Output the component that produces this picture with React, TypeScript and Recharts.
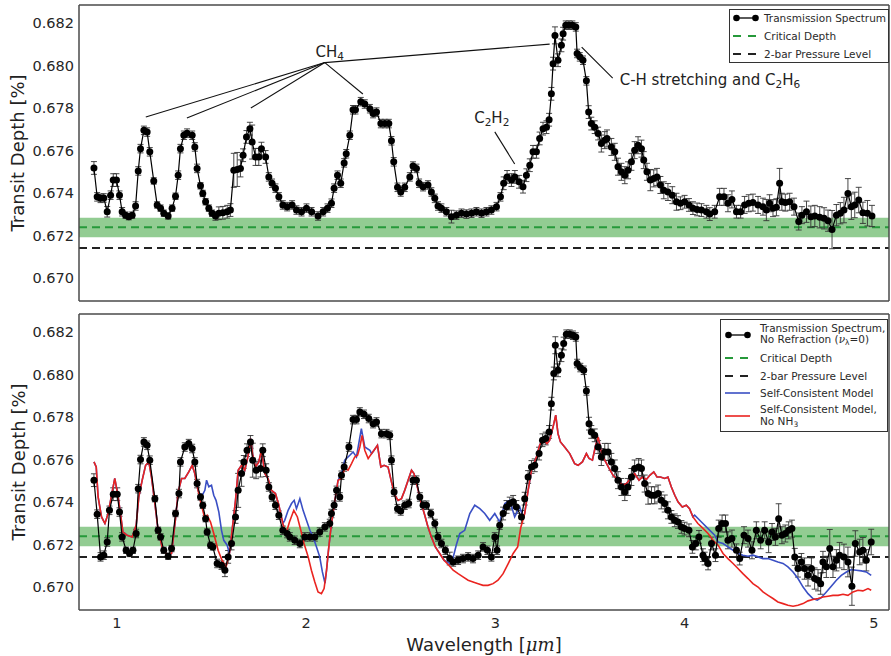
import React from 'react';
import {
  ComposedChart, Scatter, Line, XAxis, YAxis, ErrorBar,
  ReferenceArea, ReferenceLine, ReferenceDot, Legend,
} from 'recharts';

// wavelength [um], transit depth [%], 1-sigma error
const topSpectrum: [number, number, number][] = [
  [0.879, 0.67519, 0.0003], [0.896, 0.67383, 0.0002], [0.914, 0.67376, 0.0002], [0.931, 0.67378, 0.0002],
  [0.949, 0.67313, 0.00025], [0.967, 0.67391, 0.0002], [0.981, 0.67462, 0.0003], [0.998, 0.67462, 0.0003],
  [1.014, 0.67391, 0.0002], [1.028, 0.67313, 0.0002], [1.046, 0.67297, 0.00015], [1.063, 0.6729, 0.00015],
  [1.081, 0.67297, 0.00015], [1.099, 0.6734, 0.0002], [1.113, 0.67505, 0.0002], [1.125, 0.6761, 0.0002],
  [1.143, 0.67696, 0.0002], [1.16, 0.67688, 0.0002], [1.174, 0.67595, 0.0002], [1.195, 0.67458, 0.00015],
  [1.213, 0.67345, 0.00015], [1.231, 0.6733, 0.00015], [1.248, 0.67306, 0.00015], [1.271, 0.67293, 0.00015],
  [1.292, 0.6733, 0.00015], [1.31, 0.67386, 0.00015], [1.324, 0.67485, 0.0002], [1.336, 0.6761, 0.0002],
  [1.354, 0.67673, 0.0002], [1.371, 0.67683, 0.0002], [1.398, 0.67673, 0.0002], [1.412, 0.67618, 0.0002],
  [1.424, 0.67517, 0.0002], [1.442, 0.67435, 0.00015], [1.454, 0.67399, 0.00015], [1.469, 0.6736, 0.00015],
  [1.486, 0.6733, 0.00015], [1.503, 0.67306, 0.00015], [1.521, 0.67293, 0.0002], [1.539, 0.67306, 0.0003],
  [1.56, 0.67308, 0.0003], [1.583, 0.67313, 0.0003], [1.6, 0.67321, 0.0003], [1.618, 0.67508, 0.0008],
  [1.636, 0.67512, 0.0008], [1.653, 0.67517, 0.0004], [1.667, 0.67579, 0.0003], [1.685, 0.67665, 0.0003],
  [1.703, 0.67704, 0.0003], [1.715, 0.67641, 0.0008], [1.733, 0.67571, 0.0004], [1.75, 0.67571, 0.0004],
  [1.764, 0.6761, 0.0003], [1.786, 0.67571, 0.0003], [1.803, 0.67477, 0.0002], [1.82, 0.67447, 0.0002],
  [1.838, 0.67424, 0.0002], [1.856, 0.67383, 0.0002], [1.877, 0.67345, 0.0002], [1.9, 0.67337, 0.0002],
  [1.926, 0.67345, 0.0002], [1.949, 0.67321, 0.0002], [1.976, 0.67313, 0.0002], [2.002, 0.6733, 0.0002],
  [2.029, 0.67313, 0.0002], [2.063, 0.67293, 0.0002], [2.09, 0.67313, 0.0002], [2.113, 0.6733, 0.0002],
  [2.134, 0.67353, 0.0002], [2.148, 0.67424, 0.0002], [2.166, 0.67485, 0.0002], [2.183, 0.67447, 0.0002],
  [2.201, 0.67543, 0.0002], [2.212, 0.67586, 0.0002], [2.231, 0.67673, 0.0002], [2.248, 0.67793, 0.0002],
  [2.261, 0.67793, 0.0002], [2.289, 0.67831, 0.0002], [2.31, 0.6782, 0.0002], [2.337, 0.67798, 0.0002],
  [2.354, 0.67775, 0.0002], [2.372, 0.67782, 0.0002], [2.395, 0.67728, 0.0002], [2.416, 0.67728, 0.0002],
  [2.437, 0.67728, 0.0002], [2.451, 0.67647, 0.0002], [2.463, 0.67548, 0.0002], [2.483, 0.67428, 0.0002],
  [2.5, 0.67406, 0.0002], [2.521, 0.67428, 0.0002], [2.548, 0.67477, 0.0002], [2.565, 0.67528, 0.0002],
  [2.583, 0.67517, 0.0002], [2.597, 0.67447, 0.0002], [2.618, 0.67431, 0.0002], [2.644, 0.67439, 0.0002],
  [2.662, 0.67406, 0.0002], [2.68, 0.67376, 0.0002], [2.697, 0.6734, 0.0002], [2.715, 0.6733, 0.0002],
  [2.741, 0.67313, 0.0002], [2.768, 0.6729, 0.0003], [2.794, 0.67297, 0.0002], [2.821, 0.67306, 0.0002],
  [2.847, 0.67302, 0.0002], [2.874, 0.67306, 0.0002], [2.9, 0.67313, 0.0002], [2.927, 0.67306, 0.0002],
  [2.953, 0.67313, 0.0002], [2.979, 0.67321, 0.0002], [3.006, 0.67337, 0.0002], [3.027, 0.67383, 0.0002],
  [3.044, 0.67447, 0.0003], [3.062, 0.67477, 0.0003], [3.085, 0.67462, 0.0003], [3.103, 0.67477, 0.0003],
  [3.125, 0.67454, 0.0003], [3.146, 0.67431, 0.0003], [3.164, 0.67485, 0.0003], [3.182, 0.67532, 0.0003],
  [3.199, 0.67595, 0.0003], [3.217, 0.67595, 0.0003], [3.234, 0.67658, 0.0003], [3.252, 0.67704, 0.0003],
  [3.27, 0.67711, 0.0003], [3.284, 0.67746, 0.0003], [3.296, 0.67868, 0.0003], [3.305, 0.6801, 0.0003],
  [3.315, 0.68143, 0.0004], [3.331, 0.68026, 0.0003], [3.349, 0.68096, 0.0003], [3.358, 0.68151, 0.0003],
  [3.372, 0.68191, 0.0002], [3.389, 0.68191, 0.0002], [3.407, 0.68191, 0.0002], [3.425, 0.68183, 0.0002],
  [3.432, 0.68058, 0.0002], [3.446, 0.68042, 0.0002], [3.463, 0.68026, 0.0002], [3.481, 0.67929, 0.0002],
  [3.493, 0.67782, 0.0003], [3.507, 0.67728, 0.0003], [3.525, 0.67711, 0.0003], [3.543, 0.67681, 0.0003],
  [3.56, 0.67634, 0.0004], [3.578, 0.6765, 0.0004], [3.59, 0.67658, 0.0004], [3.613, 0.67618, 0.0004],
  [3.631, 0.67595, 0.0004], [3.648, 0.67525, 0.0004], [3.666, 0.67501, 0.0004], [3.684, 0.67485, 0.0004],
  [3.701, 0.67508, 0.0004], [3.719, 0.67548, 0.0004], [3.736, 0.67603, 0.0004], [3.754, 0.67626, 0.0004],
  [3.772, 0.6761, 0.0004], [3.784, 0.67556, 0.0004], [3.801, 0.67501, 0.0004], [3.819, 0.67462, 0.0005],
  [3.837, 0.6747, 0.0004], [3.854, 0.67477, 0.0004], [3.872, 0.67439, 0.0004], [3.89, 0.67414, 0.0004],
  [3.912, 0.67406, 0.0004], [3.935, 0.67391, 0.0004], [3.957, 0.6736, 0.0004], [3.978, 0.67353, 0.0003],
  [4.0, 0.6736, 0.0003], [4.023, 0.67345, 0.0003], [4.044, 0.6733, 0.0003], [4.066, 0.67324, 0.0003],
  [4.089, 0.67321, 0.0003], [4.115, 0.67313, 0.0003], [4.133, 0.67302, 0.0003], [4.159, 0.67313, 0.0003],
  [4.185, 0.67383, 0.0004], [4.208, 0.67383, 0.0004], [4.229, 0.67353, 0.0004], [4.25, 0.67371, 0.0004],
  [4.274, 0.67313, 0.0003], [4.296, 0.67313, 0.0003], [4.317, 0.67345, 0.0004], [4.339, 0.67353, 0.0004],
  [4.361, 0.67356, 0.0004], [4.388, 0.67345, 0.0004], [4.414, 0.67337, 0.0004], [4.432, 0.67321, 0.0005],
  [4.449, 0.67353, 0.0004], [4.467, 0.6733, 0.0004], [4.485, 0.67334, 0.0004], [4.502, 0.67447, 0.0007],
  [4.514, 0.6736, 0.0004], [4.532, 0.67356, 0.0004], [4.555, 0.6736, 0.0004], [4.578, 0.67337, 0.0004],
  [4.603, 0.67267, 0.0004], [4.62, 0.67297, 0.0004], [4.644, 0.67313, 0.0005], [4.667, 0.6729, 0.0005],
  [4.688, 0.67293, 0.0005], [4.714, 0.67287, 0.0005], [4.737, 0.67282, 0.0005], [4.758, 0.67271, 0.0005],
  [4.779, 0.67229, 0.0009], [4.802, 0.67297, 0.0005], [4.823, 0.67306, 0.0005], [4.842, 0.67321, 0.0006],
  [4.863, 0.67399, 0.0007], [4.881, 0.67337, 0.0006], [4.899, 0.67345, 0.0006], [4.92, 0.67368, 0.0006],
  [4.942, 0.67308, 0.0005], [4.966, 0.67306, 0.0006], [4.99, 0.67293, 0.0005],
];

const noRefractionSpectrum: [number, number, number][] = [
  [0.879, 0.67504, 0.0003], [0.896, 0.67344, 0.0002], [0.914, 0.67143, 0.0002], [0.931, 0.67151, 0.0002],
  [0.949, 0.67213, 0.0002], [0.961, 0.67362, 0.0002], [0.981, 0.67438, 0.0003], [1.002, 0.67438, 0.0003],
  [1.014, 0.67354, 0.0002], [1.028, 0.67237, 0.0002], [1.049, 0.67174, 0.00015], [1.067, 0.67159, 0.00015],
  [1.085, 0.67174, 0.00015], [1.102, 0.67253, 0.0002], [1.113, 0.67464, 0.0002], [1.125, 0.67601, 0.0002],
  [1.143, 0.67684, 0.0002], [1.16, 0.67668, 0.0002], [1.174, 0.67598, 0.0002], [1.201, 0.67417, 0.00015],
  [1.218, 0.67268, 0.00015], [1.231, 0.67237, 0.00015], [1.248, 0.67174, 0.00015], [1.271, 0.67146, 0.00015],
  [1.289, 0.67182, 0.00015], [1.31, 0.67347, 0.00015], [1.328, 0.67441, 0.0002], [1.336, 0.6759, 0.0002],
  [1.359, 0.6766, 0.0002], [1.38, 0.67676, 0.0002], [1.398, 0.67653, 0.0002], [1.412, 0.6759, 0.0002],
  [1.424, 0.67488, 0.0002], [1.442, 0.67425, 0.00015], [1.454, 0.67386, 0.00015], [1.469, 0.67323, 0.00015],
  [1.477, 0.6726, 0.00015], [1.495, 0.67198, 0.00015], [1.507, 0.6719, 0.00015], [1.53, 0.67112, 0.0002],
  [1.553, 0.67104, 0.0002], [1.571, 0.6708, 0.0003], [1.588, 0.67143, 0.0003], [1.606, 0.67206, 0.0003],
  [1.627, 0.67331, 0.0003], [1.641, 0.67456, 0.0008], [1.659, 0.67535, 0.0006], [1.671, 0.6759, 0.0003],
  [1.688, 0.67645, 0.0003], [1.706, 0.67684, 0.0003], [1.718, 0.67598, 0.0008], [1.736, 0.67551, 0.0004],
  [1.759, 0.67559, 0.0004], [1.771, 0.67645, 0.0003], [1.789, 0.67551, 0.0003], [1.803, 0.67472, 0.0002],
  [1.82, 0.67425, 0.0002], [1.838, 0.67386, 0.0002], [1.856, 0.67339, 0.0002], [1.877, 0.67268, 0.0002],
  [1.9, 0.67253, 0.0002], [1.914, 0.67237, 0.0002], [1.94, 0.67221, 0.0002], [1.967, 0.67206, 0.0002],
  [1.993, 0.67237, 0.0002], [2.02, 0.67237, 0.0002], [2.046, 0.67237, 0.0002], [2.072, 0.6726, 0.0002],
  [2.099, 0.67284, 0.0002], [2.125, 0.673, 0.0002], [2.134, 0.67347, 0.0002], [2.148, 0.67386, 0.0002],
  [2.161, 0.67456, 0.0002], [2.178, 0.67425, 0.0002], [2.187, 0.67527, 0.0002], [2.201, 0.67566, 0.0002],
  [2.226, 0.6766, 0.0002], [2.248, 0.67789, 0.0002], [2.266, 0.67789, 0.0002], [2.284, 0.67825, 0.0002],
  [2.306, 0.67814, 0.0002], [2.331, 0.67794, 0.0002], [2.354, 0.6777, 0.0002], [2.372, 0.67778, 0.0002],
  [2.398, 0.67723, 0.0002], [2.425, 0.67723, 0.0002], [2.442, 0.67715, 0.0002], [2.451, 0.67598, 0.0002],
  [2.465, 0.67448, 0.0002], [2.483, 0.6737, 0.0002], [2.5, 0.67359, 0.0002], [2.521, 0.67386, 0.0002],
  [2.542, 0.67394, 0.0002], [2.565, 0.67504, 0.0002], [2.583, 0.67504, 0.0002], [2.601, 0.67425, 0.0002],
  [2.618, 0.67386, 0.0002], [2.636, 0.67386, 0.0002], [2.659, 0.67347, 0.0002], [2.68, 0.673, 0.0002],
  [2.697, 0.67237, 0.0002], [2.715, 0.67206, 0.0002], [2.736, 0.67174, 0.0002], [2.759, 0.67135, 0.0003],
  [2.777, 0.67119, 0.0002], [2.803, 0.67127, 0.0002], [2.829, 0.67135, 0.0002], [2.856, 0.67143, 0.0002],
  [2.882, 0.67135, 0.0002], [2.909, 0.67151, 0.0002], [2.935, 0.6719, 0.0002], [2.958, 0.67174, 0.0002],
  [2.979, 0.67143, 0.0002], [2.997, 0.67237, 0.0002], [3.009, 0.67174, 0.0002], [3.023, 0.67292, 0.0002],
  [3.041, 0.67347, 0.0003], [3.059, 0.67378, 0.0003], [3.076, 0.67394, 0.0003], [3.094, 0.67402, 0.0003],
  [3.111, 0.67378, 0.0003], [3.138, 0.67331, 0.0003], [3.155, 0.67417, 0.0003], [3.173, 0.67519, 0.0003],
  [3.191, 0.67566, 0.0003], [3.208, 0.67574, 0.0003], [3.231, 0.67629, 0.0003], [3.249, 0.67692, 0.0003],
  [3.266, 0.677, 0.0003], [3.284, 0.67731, 0.0003], [3.296, 0.67864, 0.0003], [3.309, 0.68006, 0.0003],
  [3.317, 0.68139, 0.0004], [3.331, 0.68021, 0.0003], [3.349, 0.68092, 0.0003], [3.361, 0.68147, 0.0003],
  [3.375, 0.68191, 0.0002], [3.393, 0.68191, 0.0002], [3.41, 0.68186, 0.0002], [3.425, 0.68178, 0.0002],
  [3.432, 0.68053, 0.0002], [3.449, 0.68034, 0.0002], [3.467, 0.68021, 0.0002], [3.481, 0.67924, 0.0002],
  [3.495, 0.6777, 0.0003], [3.507, 0.67731, 0.0003], [3.525, 0.67715, 0.0003], [3.543, 0.6766, 0.0003],
  [3.56, 0.67613, 0.0004], [3.578, 0.67637, 0.0004], [3.596, 0.67637, 0.0004], [3.613, 0.6759, 0.0004],
  [3.631, 0.67559, 0.0004], [3.648, 0.67504, 0.0004], [3.666, 0.67472, 0.0004], [3.684, 0.67448, 0.0004],
  [3.701, 0.67472, 0.0004], [3.719, 0.67519, 0.0004], [3.736, 0.67559, 0.0004], [3.757, 0.67566, 0.0004],
  [3.772, 0.67559, 0.0004], [3.789, 0.67488, 0.0004], [3.807, 0.67441, 0.0005], [3.825, 0.67433, 0.0004],
  [3.842, 0.67433, 0.0004], [3.86, 0.67441, 0.0004], [3.877, 0.67409, 0.0004], [3.895, 0.67394, 0.0004],
  [3.912, 0.67362, 0.0004], [3.93, 0.67331, 0.0003], [3.948, 0.67315, 0.0003], [3.965, 0.67307, 0.0003],
  [3.983, 0.67284, 0.0003], [4.0, 0.67276, 0.0003], [4.023, 0.67268, 0.0003], [4.041, 0.6719, 0.0003],
  [4.059, 0.67206, 0.0003], [4.076, 0.67237, 0.0003], [4.097, 0.67151, 0.0003], [4.106, 0.67135, 0.0003],
  [4.124, 0.67112, 0.0003], [4.142, 0.67206, 0.0003], [4.163, 0.67151, 0.0003], [4.18, 0.67276, 0.0004],
  [4.198, 0.673, 0.0004], [4.216, 0.673, 0.0004], [4.229, 0.67221, 0.0004], [4.25, 0.67229, 0.0004],
  [4.274, 0.67174, 0.0003], [4.291, 0.67135, 0.0003], [4.314, 0.67245, 0.0004], [4.335, 0.67229, 0.0004],
  [4.356, 0.67174, 0.0004], [4.379, 0.67268, 0.0004], [4.402, 0.67221, 0.0004], [4.423, 0.67268, 0.0004],
  [4.444, 0.67213, 0.0005], [4.462, 0.6726, 0.0004], [4.48, 0.67237, 0.0004], [4.497, 0.67323, 0.0007],
  [4.514, 0.67245, 0.0004], [4.532, 0.67253, 0.0004], [4.55, 0.67268, 0.0004], [4.567, 0.67276, 0.0004],
  [4.582, 0.67143, 0.0004], [4.599, 0.67088, 0.0004], [4.617, 0.67119, 0.0004], [4.634, 0.67088, 0.0005],
  [4.652, 0.67056, 0.0005], [4.67, 0.67088, 0.0005], [4.687, 0.67041, 0.0005], [4.705, 0.67033, 0.0005],
  [4.719, 0.67017, 0.0005], [4.731, 0.67119, 0.0005], [4.749, 0.67096, 0.0005], [4.767, 0.67182, 0.0009],
  [4.784, 0.67096, 0.0005], [4.802, 0.67127, 0.0005], [4.819, 0.67151, 0.0006], [4.842, 0.67143, 0.0006],
  [4.863, 0.67119, 0.0007], [4.884, 0.67005, 0.0009], [4.902, 0.67206, 0.0006], [4.925, 0.67166, 0.0006],
  [4.942, 0.67174, 0.0006], [4.96, 0.67127, 0.0005], [4.986, 0.67213, 0.0006],
];

// self-consistent model without NH3
const noNh3Model: [number, number][] = [
  [0.879, 0.6759], [0.891, 0.67566], [0.901, 0.67425], [0.919, 0.67331], [0.937, 0.673], [0.954, 0.67347],
  [0.972, 0.67433], [0.989, 0.67512], [1.007, 0.67425], [1.019, 0.67347], [1.032, 0.6726], [1.054, 0.67245],
  [1.081, 0.67237], [1.102, 0.67292], [1.116, 0.67425], [1.134, 0.67504], [1.152, 0.67574], [1.169, 0.6759],
  [1.183, 0.67519], [1.201, 0.67394], [1.218, 0.67268], [1.239, 0.6719], [1.266, 0.67151], [1.289, 0.67159],
  [1.31, 0.67323], [1.324, 0.67448], [1.342, 0.67512], [1.359, 0.67512], [1.38, 0.67543], [1.398, 0.67574],
  [1.412, 0.67535], [1.429, 0.67456], [1.447, 0.67386], [1.465, 0.67323], [1.477, 0.67339], [1.495, 0.67307],
  [1.512, 0.67253], [1.535, 0.67174], [1.556, 0.67127], [1.577, 0.67096], [1.595, 0.67159], [1.609, 0.67268],
  [1.627, 0.67409], [1.641, 0.67551], [1.659, 0.67574], [1.676, 0.67551], [1.694, 0.67621], [1.706, 0.677],
  [1.718, 0.67621], [1.733, 0.67566], [1.75, 0.6759], [1.764, 0.67645], [1.782, 0.67535], [1.799, 0.67512],
  [1.817, 0.67456], [1.838, 0.67441], [1.856, 0.67386], [1.877, 0.673], [1.894, 0.67253], [1.912, 0.67307],
  [1.935, 0.67362], [1.954, 0.67331], [1.972, 0.67268], [1.989, 0.67206], [2.011, 0.67143], [2.028, 0.6708],
  [2.046, 0.67025], [2.063, 0.66978], [2.081, 0.6697], [2.095, 0.66994], [2.108, 0.6708], [2.12, 0.6719],
  [2.134, 0.673], [2.152, 0.67409], [2.169, 0.67504], [2.187, 0.67512], [2.204, 0.67559], [2.222, 0.67551],
  [2.24, 0.67582], [2.257, 0.67613], [2.272, 0.67621], [2.284, 0.6766], [2.296, 0.67715], [2.31, 0.67645],
  [2.328, 0.67606], [2.346, 0.67629], [2.359, 0.67645], [2.377, 0.67668], [2.395, 0.67566], [2.412, 0.67574],
  [2.433, 0.67566], [2.451, 0.67496], [2.469, 0.67433], [2.486, 0.67409], [2.504, 0.67417], [2.521, 0.67456],
  [2.539, 0.67504], [2.557, 0.67551], [2.57, 0.67535], [2.588, 0.67472], [2.609, 0.67394], [2.627, 0.67339],
  [2.644, 0.67284], [2.662, 0.67237], [2.683, 0.6719], [2.706, 0.67159], [2.729, 0.67127], [2.754, 0.67104],
  [2.777, 0.6708], [2.803, 0.67064], [2.829, 0.67049], [2.856, 0.67033], [2.882, 0.67025], [2.909, 0.67017],
  [2.935, 0.67009], [2.961, 0.67009], [2.988, 0.67017], [3.014, 0.67033], [3.041, 0.67064], [3.07, 0.67115],
  [3.094, 0.67159], [3.118, 0.6719], [3.134, 0.6728], [3.155, 0.67347], [3.173, 0.67456], [3.191, 0.67551],
  [3.217, 0.67613], [3.234, 0.67668], [3.252, 0.677], [3.273, 0.67676], [3.287, 0.67692], [3.305, 0.67755],
  [3.319, 0.6781], [3.331, 0.67723], [3.344, 0.67684], [3.366, 0.6766], [3.393, 0.67629], [3.419, 0.67582],
  [3.437, 0.67574], [3.46, 0.6759], [3.481, 0.67629], [3.495, 0.67606], [3.513, 0.67598], [3.53, 0.67668],
  [3.543, 0.67707], [3.56, 0.67637], [3.578, 0.67598], [3.601, 0.67559], [3.622, 0.67527], [3.648, 0.67504],
  [3.672, 0.6748], [3.693, 0.67488], [3.714, 0.67512], [3.736, 0.67535], [3.759, 0.67504], [3.777, 0.67519],
  [3.798, 0.67507], [3.816, 0.67527], [3.837, 0.67543], [3.854, 0.67519], [3.872, 0.67519], [3.895, 0.67512],
  [3.912, 0.67519], [3.93, 0.67472], [3.948, 0.67433], [3.965, 0.67402], [3.988, 0.67378], [4.009, 0.67386],
  [4.026, 0.6737], [4.044, 0.67331], [4.07, 0.673], [4.089, 0.67284], [4.124, 0.67253], [4.15, 0.67221],
  [4.177, 0.67198], [4.203, 0.67159], [4.229, 0.67135], [4.256, 0.67112], [4.282, 0.67088], [4.308, 0.67064],
  [4.335, 0.67041], [4.361, 0.67017], [4.388, 0.67001], [4.414, 0.66978], [4.441, 0.66962], [4.467, 0.66947],
  [4.493, 0.66931], [4.52, 0.66923], [4.546, 0.66915], [4.573, 0.66911], [4.599, 0.66915], [4.626, 0.66923],
  [4.652, 0.66936], [4.678, 0.66942], [4.705, 0.66947], [4.731, 0.66954], [4.758, 0.66958], [4.784, 0.66962],
  [4.811, 0.66962], [4.837, 0.66967], [4.863, 0.66962], [4.89, 0.66978], [4.916, 0.66986], [4.942, 0.66983],
  [4.969, 0.66994], [4.986, 0.66986],
];

// self-consistent model: wavelength ranges where it departs from the no-NH3 curve
const nh3Segments: { from: number; to: number; points: [number, number][] }[] = [
  { from: 1.44, to: 1.59, points: [
    [1.447, 0.67425], [1.465, 0.67456], [1.474, 0.67504], [1.486, 0.67473], [1.5, 0.6748], [1.512, 0.67433],
    [1.524, 0.67409], [1.539, 0.67354], [1.553, 0.67268], [1.565, 0.67221], [1.583, 0.67198],
  ] },
  { from: 1.88, to: 2.105, points: [
    [1.887, 0.67315], [1.905, 0.67362], [1.923, 0.67394], [1.937, 0.67409], [1.949, 0.6737], [1.967, 0.67417],
    [1.984, 0.67362], [2.002, 0.67315], [2.02, 0.67268], [2.037, 0.67237], [2.055, 0.6719], [2.072, 0.67143],
    [2.086, 0.67072], [2.1, 0.67019],
  ] },
  { from: 2.18, to: 2.34, points: [
    [2.187, 0.67535], [2.204, 0.67598], [2.231, 0.67621], [2.248, 0.67637], [2.266, 0.67613], [2.292, 0.67747],
    [2.31, 0.6766], [2.337, 0.67645],
  ] },
  { from: 2.745, to: 3.15, points: [
    [2.759, 0.67112], [2.777, 0.6714], [2.794, 0.672], [2.812, 0.67253], [2.838, 0.67268], [2.865, 0.67347],
    [2.891, 0.67386], [2.918, 0.6737], [2.944, 0.67347], [2.97, 0.67315], [2.997, 0.67347], [3.023, 0.67307],
    [3.05, 0.67394], [3.076, 0.67409], [3.102, 0.67331], [3.129, 0.67378], [3.146, 0.67331],
  ] },
  { from: 4.045, to: 5.0, points: [
    [4.053, 0.67339], [4.089, 0.67307], [4.124, 0.67276], [4.159, 0.67245], [4.177, 0.67213], [4.203, 0.67206],
    [4.229, 0.6719], [4.256, 0.67174], [4.282, 0.67159], [4.308, 0.67151], [4.335, 0.67146], [4.361, 0.67151],
    [4.388, 0.67143], [4.414, 0.67135], [4.441, 0.67135], [4.467, 0.67127], [4.493, 0.67119], [4.52, 0.67112],
    [4.546, 0.67096], [4.573, 0.67072], [4.599, 0.67041], [4.626, 0.67001], [4.652, 0.6697], [4.678, 0.66947],
    [4.701, 0.66939], [4.722, 0.66951], [4.749, 0.66978], [4.775, 0.67005], [4.802, 0.67033], [4.828, 0.67056],
    [4.855, 0.67072], [4.881, 0.67083], [4.907, 0.6708], [4.934, 0.67077], [4.96, 0.67072], [4.986, 0.67056],
  ] },
];

const criticalBand: [number, number] = [0.67193, 0.67285];
const criticalDepth = 0.6724;
const twoBarLevel = 0.67142;

const ch4Hub: [number, number] = [2.099, 0.68015];
const ch4Peaks: [number, number][] = [[1.153, 0.67759], [1.37, 0.67754], [1.708, 0.67801], [2.3, 0.67867], [3.287, 0.68102]];
const c2h2Pointer: [number, number][] = [[2.997, 0.67689], [3.102, 0.67538]];
const chPointer: [number, number][] = [[3.456, 0.68088], [3.62, 0.67942]];

const xMajorTicks = [1, 2, 3, 4, 5];
const xMinorTicks = [0.8, 1, 1.2, 1.4, 1.6, 1.8, 2, 2.2, 2.4, 2.6, 2.8, 3, 3.2, 3.4, 3.6, 3.8, 4, 4.2, 4.4, 4.6, 4.8, 5];
const yMajorTicks = [0.67, 0.672, 0.674, 0.676, 0.678, 0.68, 0.682];
const yMinorTicks = [0.669, 0.6695, 0.67, 0.6705, 0.671, 0.6715, 0.672, 0.6725, 0.673, 0.6735, 0.674, 0.6745,
  0.675, 0.6755, 0.676, 0.6765, 0.677, 0.6775, 0.678, 0.6785, 0.679, 0.6795, 0.68, 0.6805, 0.681, 0.6815, 0.682, 0.6825];

const X_DOMAIN: [number, number] = [0.8, 5.08];
const Y_DOMAIN: [number, number] = [0.66893, 0.68286];

const FONT = 'DejaVu Sans, Verdana, sans-serif';
const AXIS = '#4a4a4a';
const GREEN = '#26993a';
const RED = '#ea2420';
const BLUE = '#3a4fc4';
const THIN = 0.01; // axes that only carry tick marks; 0 would stop recharts from drawing them

const toPoints = (rows: [number, number, number][]) => rows.map(([x, y, err]) => ({ x, y, err }));
const toCurve = (rows: [number, number][]) => rows.map(([x, y]) => ({ x, y }));

const topPoints = toPoints(topSpectrum);
const bottomPoints = toPoints(noRefractionSpectrum);
const redCurve = toCurve(noNh3Model);
const blueCurve = toCurve(
  [
    ...noNh3Model.filter(([x]) => !nh3Segments.some((s) => x >= s.from && x <= s.to)),
    ...nh3Segments.flatMap((s) => s.points),
  ].sort((a, b) => a[0] - b[0])
);

const dotShape = (p: any) => <circle cx={p.cx} cy={p.cy} r={3.5} fill="#000" />;

const yTitle = (p: any) => {
  const vb = p.viewBox;
  const cx = vb.x + 9;
  const cy = vb.y + vb.height / 2;
  return (
    <text x={cx} y={cy} transform={`rotate(-90 ${cx} ${cy})`} textAnchor="middle" dominantBaseline="central"
      fontFamily={FONT} fontSize={18} fill="#222">Transit Depth [%]</text>
  );
};

const xTitle = (p: any) => {
  const vb = p.viewBox;
  return (
    <text x={vb.x + vb.width / 2} y={vb.y + 34} textAnchor="middle" dominantBaseline="central"
      fontFamily={FONT} fontSize={18} fill="#222">
      Wavelength [<tspan fontFamily="DejaVu Serif, serif" fontStyle="italic">μm</tspan>]
    </text>
  );
};

// text with subscripts: [text, isSub]
const note = (parts: [string, boolean][], anchor: 'start' | 'middle') => (p: any) => {
  let shifted = false;
  return (
    <text x={p.cx} y={p.cy} textAnchor={anchor} dominantBaseline="central" fontFamily={FONT} fontSize={15} fill="#222">
      {parts.map(([t, sub], i) => {
        let dy = 0;
        if (sub && !shifted) { dy = 4; shifted = true; }
        else if (!sub && shifted) { dy = -4; shifted = false; }
        return <tspan key={i} dy={dy} fontSize={sub ? 10.5 : 15}>{t}</tspan>;
      })}
    </text>
  );
};

function frameAxes(showX: boolean) {
  const common = { type: 'number' as const, allowDataOverflow: true, interval: 0 as const };
  const tickLine = { stroke: AXIS, strokeWidth: 1 };
  const frameLine = { stroke: AXIS, strokeWidth: 1.5 };
  const tickFont = { fontFamily: FONT, fontSize: 14.5, fill: '#262626' };
  return [
    <XAxis key="x" xAxisId={0} dataKey="x" {...common} domain={X_DOMAIN} ticks={xMajorTicks}
      height={showX ? 30 : THIN} tick={showX ? tickFont : false} tickLine={false} tickSize={6} tickMargin={2}
      axisLine={frameLine} label={showX ? xTitle : undefined} />,
    <XAxis key="bMaj" xAxisId="bMaj" {...common} domain={X_DOMAIN} ticks={xMajorTicks} orientation="bottom" mirror
      height={THIN} tick={false} tickSize={6} tickLine={tickLine} axisLine={false} />,
    <XAxis key="bMin" xAxisId="bMin" {...common} domain={X_DOMAIN} ticks={xMinorTicks} orientation="bottom" mirror
      height={THIN} tick={false} tickSize={3} tickLine={tickLine} axisLine={false} />,
    <XAxis key="tMaj" xAxisId="tMaj" {...common} domain={X_DOMAIN} ticks={xMajorTicks} orientation="top" mirror
      height={THIN} tick={false} tickSize={6} tickLine={tickLine} axisLine={frameLine} />,
    <XAxis key="tMin" xAxisId="tMin" {...common} domain={X_DOMAIN} ticks={xMinorTicks} orientation="top" mirror
      height={THIN} tick={false} tickSize={3} tickLine={tickLine} axisLine={false} />,
    <YAxis key="y" yAxisId={0} dataKey="y" {...common} domain={Y_DOMAIN} ticks={yMajorTicks} width={70}
      tick={tickFont} tickLine={false} tickSize={3} tickMargin={2} tickFormatter={(v: number) => v.toFixed(3)}
      axisLine={frameLine} label={yTitle} />,
    <YAxis key="lMaj" yAxisId="lMaj" {...common} domain={Y_DOMAIN} ticks={yMajorTicks} orientation="left" mirror
      width={THIN} tick={false} tickSize={6} tickLine={tickLine} axisLine={false} />,
    <YAxis key="lMin" yAxisId="lMin" {...common} domain={Y_DOMAIN} ticks={yMinorTicks} orientation="left" mirror
      width={THIN} tick={false} tickSize={3} tickLine={tickLine} axisLine={false} />,
    <YAxis key="rMaj" yAxisId="rMaj" {...common} domain={Y_DOMAIN} ticks={yMajorTicks} orientation="right" mirror
      width={THIN} tick={false} tickSize={6} tickLine={tickLine} axisLine={frameLine} />,
    <YAxis key="rMin" yAxisId="rMin" {...common} domain={Y_DOMAIN} ticks={yMinorTicks} orientation="right" mirror
      width={THIN} tick={false} tickSize={3} tickLine={tickLine} axisLine={false} />,
  ];
}

function levels() {
  return [
    <ReferenceArea key="band" y1={criticalBand[0]} y2={criticalBand[1]} fill="#92cc92" fillOpacity={1} stroke="none" />,
    <ReferenceLine key="crit" y={criticalDepth} stroke={GREEN} strokeWidth={2} strokeDasharray="8 5" />,
    <ReferenceLine key="twobar" y={twoBarLevel} stroke="#222" strokeWidth={2} strokeDasharray="8 5" />,
  ];
}

type Row = { kind: 'dots' | 'dash' | 'solid'; color: string; y: number; lines: { y: number; text: React.ReactNode }[] };

function LegendBox({ width, height, markerLeft, textLeft, rows }: {
  width: number; height: number; markerLeft: number; textLeft: number; rows: Row[];
}) {
  return (
    <div style={{ position: 'relative', width, height, boxSizing: 'border-box', border: '1.5px solid #333',
      background: '#fff', fontFamily: FONT, fontSize: 10.5, color: '#2a2a2a' }}>
      {rows.map((r, i) => (
        <React.Fragment key={i}>
          <svg width={26} height={10} style={{ position: 'absolute', left: markerLeft, top: r.y - 5 }}>
            {r.kind === 'dots' && (
              <>
                <line x1={3} y1={5} x2={23} y2={5} stroke="#000" strokeWidth={1.3} />
                <circle cx={3.5} cy={5} r={3.3} fill="#000" />
                <circle cx={22.5} cy={5} r={3.3} fill="#000" />
              </>
            )}
            {r.kind === 'dash' && <line x1={0} y1={5} x2={24} y2={5} stroke={r.color} strokeWidth={2} strokeDasharray="8 7" />}
            {r.kind === 'solid' && <line x1={0} y1={5} x2={25} y2={5} stroke={r.color} strokeWidth={1.6} />}
          </svg>
          {r.lines.map((l, j) => (
            <div key={j} style={{ position: 'absolute', left: textLeft, top: l.y - 7, height: 14, lineHeight: '14px', whiteSpace: 'nowrap' }}>
              {l.text}
            </div>
          ))}
        </React.Fragment>
      ))}
    </div>
  );
}

const topLegendRows: Row[] = [
  { kind: 'dots', color: '#000', y: 8, lines: [{ y: 8, text: 'Transmission Spectrum' }] },
  { kind: 'dash', color: GREEN, y: 26, lines: [{ y: 26, text: 'Critical Depth' }] },
  { kind: 'dash', color: '#222', y: 44, lines: [{ y: 44, text: '2-bar Pressure Level' }] },
];

const sub = (t: string) => <sub style={{ fontSize: 7.5, verticalAlign: '-2px', lineHeight: 0 }}>{t}</sub>;

const bottomLegendRows: Row[] = [
  { kind: 'dots', color: '#000', y: 15, lines: [
    { y: 8, text: 'Transmission Spectrum,' },
    { y: 19, text: <>No Refraction (<i style={{ fontFamily: 'DejaVu Serif, serif' }}>ν</i>{sub('λ')}=0)</> },
  ] },
  { kind: 'dash', color: GREEN, y: 38, lines: [{ y: 38, text: 'Critical Depth' }] },
  { kind: 'dash', color: '#222', y: 56, lines: [{ y: 56, text: '2-bar Pressure Level' }] },
  { kind: 'solid', color: BLUE, y: 73, lines: [{ y: 73, text: 'Self-Consistent Model' }] },
  { kind: 'solid', color: RED, y: 96, lines: [
    { y: 89, text: 'Self-Consistent Model,' },
    { y: 101, text: <>No NH{sub('3')}</> },
  ] },
];

export default function App() {
  return (
    <div style={{ position: 'absolute', left: 0, top: 0, width: 891, height: 656, background: '#fff' }}>
      <div style={{ position: 'absolute', left: 0, top: 0 }}>
        <ComposedChart width={891} height={310} margin={{ top: 5, right: 2, bottom: 9, left: 9 }}>
          {frameAxes(false)}
          {levels()}
          {ch4Peaks.map((p, i) => (
            <ReferenceLine key={`ch4-${i}`} segment={[{ x: ch4Hub[0], y: ch4Hub[1] }, { x: p[0], y: p[1] }]}
              stroke="#111" strokeWidth={1.1} />
          ))}
          <ReferenceLine segment={[{ x: c2h2Pointer[0][0], y: c2h2Pointer[0][1] }, { x: c2h2Pointer[1][0], y: c2h2Pointer[1][1] }]}
            stroke="#111" strokeWidth={1.1} />
          <ReferenceLine segment={[{ x: chPointer[0][0], y: chPointer[0][1] }, { x: chPointer[1][0], y: chPointer[1][1] }]}
            stroke="#111" strokeWidth={1.1} />
          <ReferenceDot x={2.125} y={0.68065} r={0} shape={note([['CH', false], ['4', true]], 'middle')} />
          <ReferenceDot x={2.981} y={0.67755} r={0} shape={note([['C', false], ['2', true], ['H', false], ['2', true]], 'middle')} />
          <ReferenceDot x={3.657} y={0.67934} r={0}
            shape={note([['C-H stretching and C', false], ['2', true], ['H', false], ['6', true]], 'start')} />
          <Scatter data={topPoints} fill="#000" stroke="#000" shape={dotShape}
            line={{ stroke: '#000', strokeWidth: 1.2 }} lineType="joint" isAnimationActive={false}>
            <ErrorBar dataKey="err" direction="y" width={3} stroke="#333" strokeWidth={0.9} />
          </Scatter>
          <Legend verticalAlign="middle" align="center" layout="horizontal"
            wrapperStyle={{ left: 729, top: 9, width: 160, height: 54 }}
            content={() => <LegendBox width={160} height={54} markerLeft={3} textLeft={34} rows={topLegendRows} />} />
        </ComposedChart>
      </div>
      <div style={{ position: 'absolute', left: 0, top: 310 }}>
        <ComposedChart width={891} height={346} margin={{ top: 4, right: 2, bottom: 16, left: 9 }}>
          {frameAxes(true)}
          {levels()}
          <Scatter data={bottomPoints} fill="#000" stroke="#000" shape={dotShape}
            line={{ stroke: '#000', strokeWidth: 1.2 }} lineType="joint" isAnimationActive={false}>
            <ErrorBar dataKey="err" direction="y" width={3} stroke="#333" strokeWidth={0.9} />
          </Scatter>
          <Line data={blueCurve} dataKey="y" type="linear" stroke={BLUE} strokeWidth={1.6} dot={false}
            activeDot={false} isAnimationActive={false} />
          <Line data={redCurve} dataKey="y" type="linear" stroke={RED} strokeWidth={1.6} dot={false}
            activeDot={false} isAnimationActive={false} />
          <Legend verticalAlign="middle" align="center" layout="horizontal"
            wrapperStyle={{ left: 720, top: 9, width: 168, height: 113 }}
            content={() => <LegendBox width={168} height={113} markerLeft={4} textLeft={39} rows={bottomLegendRows} />} />
        </ComposedChart>
      </div>
    </div>
  );
}
